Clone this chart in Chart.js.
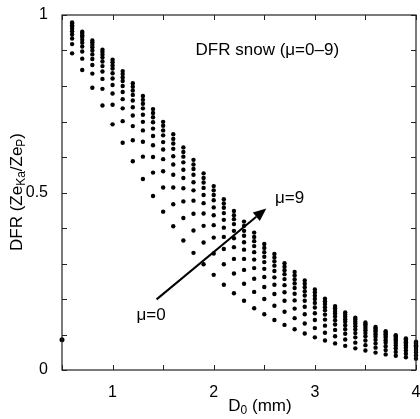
<!DOCTYPE html>
<html>
<head>
<meta charset="utf-8">
<script src="https://cdn.jsdelivr.net/npm/chart.js@4/dist/chart.umd.min.js"></script>
<style>
  html, body { margin: 0; padding: 0; background: #fff; }
  #wrap { width: 420px; height: 419px; }
</style>
</head>
<body>
<div id="wrap"><canvas id="dfrChart" width="420" height="419"></canvas></div>
<script>
// ===== DATA =====
const d0 = [0.6, 0.7, 0.8, 0.9, 1.0, 1.1, 1.2, 1.3, 1.4, 1.5, 1.6, 1.7, 1.8, 1.9, 2.0, 2.1, 2.2, 2.3,
            2.4, 2.5, 2.6, 2.7, 2.8, 2.9, 3.0, 3.1, 3.2, 3.3, 3.4, 3.5, 3.6, 3.7, 3.8, 3.9, 4.0];

const mu0 = [.892,.845,.795,.745,.692,.640,.588,.538,.490,.446,.405,.365,.330,.298,.268,.240,.216,.195,
             .174,.157,.141,.127,.115,.103,.092,.083,.075,.068,.061,.055,.049,.044,.040,.036,.032];
const mu1 = [.918,.877,.835,.792,.747,.701,.647,.601,.556,.514,.467,.428,.393,.359,.328,.298,.272,.243,
             .220,.200,.181,.164,.146,.131,.118,.105,.095,.086,.077,.070,.063,.056,.051,.046,.041];
const mu2 = [.934,.897,.859,.820,.779,.737,.687,.643,.600,.560,.514,.475,.440,.406,.373,.341,.313,.282,
             .257,.234,.214,.195,.173,.157,.141,.125,.113,.102,.092,.083,.075,.067,.061,.055,.049];
const mu3 = [.945,.911,.876,.841,.803,.763,.717,.675,.633,.594,.550,.512,.477,.441,.408,.375,.346,.313,
             .287,.262,.240,.219,.196,.178,.160,.142,.128,.115,.104,.095,.085,.077,.069,.063,.056];
const mu4 = [.954,.922,.889,.856,.821,.783,.740,.699,.659,.621,.579,.541,.506,.470,.436,.401,.371,.339,
             .311,.285,.261,.239,.215,.195,.176,.156,.140,.126,.114,.104,.094,.084,.076,.069,.062];
const mu5 = [.961,.930,.900,.869,.836,.800,.759,.719,.680,.642,.602,.564,.529,.493,.458,.423,.392,.360,
             .332,.304,.279,.256,.231,.210,.189,.168,.151,.136,.123,.112,.101,.091,.082,.074,.067];
const mu6 = [.967,.938,.909,.880,.849,.814,.775,.737,.698,.661,.623,.585,.550,.513,.478,.442,.411,.378,
             .349,.319,.294,.270,.244,.222,.200,.177,.159,.143,.130,.118,.107,.096,.086,.078,.070];
const mu7 = [.971,.943,.916,.888,.858,.824,.787,.750,.712,.675,.638,.601,.566,.528,.493,.457,.425,.392,
             .363,.332,.306,.281,.255,.233,.209,.186,.166,.150,.136,.124,.112,.101,.090,.082,.074];
const mu8 = [.976,.949,.923,.896,.867,.834,.798,.761,.724,.688,.651,.614,.579,.541,.506,.469,.436,.406,
             .375,.344,.317,.291,.266,.243,.219,.194,.174,.156,.142,.129,.117,.105,.095,.086,.077];
const mu9 = [.979,.953,.928,.902,.874,.842,.808,.772,.735,.699,.664,.627,.592,.554,.518,.481,.448,.418,
             .387,.355,.327,.301,.276,.252,.227,.201,.180,.162,.147,.134,.121,.109,.098,.089,.080];

const strayX = [0.5];
const strayY = [0.085];

const xLabelTicks = [1, 2, 3, 4];
const yLabelTicks = [0, 0.5, 1];

// ===== CHART =====
const FONT = 'Liberation Sans, Arial, sans-serif';
Chart.defaults.font.family = FONT;
Chart.defaults.font.size = 15;
Chart.defaults.color = '#000';

const muSeries = [mu0, mu1, mu2, mu3, mu4, mu5, mu6, mu7, mu8, mu9];
const toPoints = (xs, ys) => ys.map((v, i) => ({ x: xs[i], y: v }));

const datasets = muSeries.map((vals, i) => ({
  label: 'mu=' + i,
  data: toPoints(d0, vals),
  backgroundColor: '#000',
  borderWidth: 0,
  pointRadius: 2.2,
  clip: false,
}));
datasets.push({
  label: 'edge',
  data: toPoints(strayX, strayY),
  backgroundColor: '#000',
  borderWidth: 0,
  pointRadius: 2.5,
  clip: false,
});

// text with subscripts, laid out left to right then centred
function drawRich(ctx, parts, cx, cy, size) {
  const subSize = Math.round(size * 0.7);
  let total = 0;
  parts.forEach(p => {
    ctx.font = (p.sub ? subSize : size) + 'px ' + FONT;
    p.w = ctx.measureText(p.t).width;
    total += p.w;
  });
  let x = cx - total / 2;
  ctx.textBaseline = 'middle';
  ctx.textAlign = 'left';
  parts.forEach(p => {
    ctx.font = (p.sub ? subSize : size) + 'px ' + FONT;
    ctx.fillText(p.t, x, p.sub ? cy + size * 0.3 : cy);
    x += p.w;
  });
}

const decorPlugin = {
  id: 'decor',
  afterDraw(chart) {
    const { ctx, chartArea: a, scales: { x, y } } = chart;
    ctx.save();
    ctx.strokeStyle = '#222';
    ctx.lineWidth = 1.2;
    ctx.strokeRect(a.left, a.top, a.right - a.left, a.bottom - a.top);

    // inward tick marks
    const tl = 5;
    ctx.lineWidth = 1;
    ctx.beginPath();
    for (let v = 0.5; v <= 4.0001; v += 0.5) {
      const px = Math.round(x.getPixelForValue(v)) + 0.5;
      ctx.moveTo(px, a.bottom); ctx.lineTo(px, a.bottom - tl);
      ctx.moveTo(px, a.top); ctx.lineTo(px, a.top + tl);
    }
    for (let k = 0; k <= 10; k++) {
      const py = Math.round(y.getPixelForValue(k / 10)) + 0.5;
      ctx.moveTo(a.left, py); ctx.lineTo(a.left + tl, py);
      ctx.moveTo(a.right, py); ctx.lineTo(a.right - tl, py);
    }
    ctx.stroke();

    ctx.fillStyle = '#000';
    // arrow mu=0 -> mu=9
    const x0 = x.getPixelForValue(1.435), y0 = y.getPixelForValue(0.199);
    const x1 = x.getPixelForValue(2.52), y1 = y.getPixelForValue(0.455);
    const ang = Math.atan2(y1 - y0, x1 - x0);
    const headLen = 13, headW = 5.5;
    const bx = x1 - headLen * Math.cos(ang), by = y1 - headLen * Math.sin(ang);
    ctx.strokeStyle = '#000';
    ctx.lineWidth = 2;
    ctx.beginPath();
    ctx.moveTo(x0, y0); ctx.lineTo(bx, by);
    ctx.stroke();
    ctx.beginPath();
    ctx.moveTo(x1, y1);
    ctx.lineTo(bx + headW * Math.sin(ang), by - headW * Math.cos(ang));
    ctx.lineTo(bx - headW * Math.sin(ang), by + headW * Math.cos(ang));
    ctx.closePath();
    ctx.fill();

    // annotations
    ctx.font = '17px ' + FONT;
    ctx.textAlign = 'center';
    ctx.textBaseline = 'middle';
    ctx.fillText('DFR snow (\u03bc=0\u20139)', x.getPixelForValue(2.53), y.getPixelForValue(0.90));
    ctx.fillText('\u03bc=9', x.getPixelForValue(2.75), y.getPixelForValue(0.485));
    ctx.fillText('\u03bc=0', x.getPixelForValue(1.38), y.getPixelForValue(0.155));

    // axis titles
    drawRich(ctx, [{ t: 'D' }, { t: '0', sub: true }, { t: ' (mm)' }], 260, 406, 17);
    ctx.save();
    ctx.translate(17, 192);
    ctx.rotate(-Math.PI / 2);
    drawRich(ctx, [{ t: 'DFR (Ze' }, { t: 'Ka', sub: true }, { t: '/Ze' }, { t: 'P', sub: true }, { t: ')' }], 0, 0, 17);
    ctx.restore();

    ctx.restore();
  }
};

const near = (v, list) => list.some(t => Math.abs(t - v) < 1e-6);

new Chart(document.getElementById('dfrChart'), {
  type: 'scatter',
  data: { datasets },
  options: {
    responsive: false,
    devicePixelRatio: 1,
    animation: false,
    layout: { padding: { left: 0, top: 15, right: 3, bottom: 0 } },
    plugins: { legend: { display: false }, tooltip: { enabled: false } },
    scales: {
      x: {
        type: 'linear', min: 0.5, max: 4,
        grid: { display: false }, border: { display: false },
        ticks: {
          stepSize: 0.5, autoSkip: false, maxRotation: 0, padding: 5, color: '#000',
          font: { size: 16 },
          callback: v => near(v, xLabelTicks) ? String(Math.round(v)) : ''
        },
        afterFit: s => { s.height = 49; s.paddingLeft = 0; s.paddingRight = 0; }
      },
      y: {
        type: 'linear', min: 0, max: 1,
        grid: { display: false }, border: { display: false },
        ticks: {
          stepSize: 0.1, autoSkip: false, padding: 6, color: '#000',
          font: { size: 16 },
          callback: v => near(v, yLabelTicks) ? String(Math.round(v * 10) / 10) : ''
        },
        afterFit: s => { s.width = 62; s.paddingTop = 0; s.paddingBottom = 0; }
      }
    }
  },
  plugins: [decorPlugin]
});
</script>
</body>
</html>
